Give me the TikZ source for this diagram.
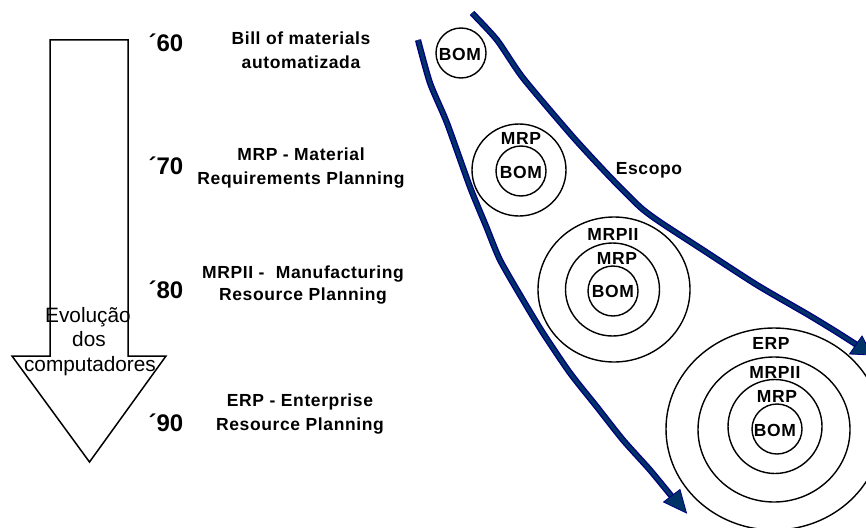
\documentclass[tikz,border=0pt]{standalone}
\usepackage{fontspec}
\setmainfont{Liberation Sans}
\newfontfamily\boldsp[LetterSpace=3.5]{Liberation Sans Bold}
\definecolor{scopeline}{HTML}{000080}
\definecolor{scopefill}{HTML}{003366}
\tikzset{
  x=1pt,y=-1pt,
  ring/.style={draw=black,line width=1.4pt,fill=none},
  ringtext/.style={inner sep=0pt,anchor=base,font=\boldsp\fontsize{17.5}{20}\selectfont},
  decade/.style={inner sep=0pt,anchor=base east,font=\bfseries\fontsize{24}{28}\selectfont},
  era/.style={inner sep=0pt,anchor=center,align=center,font=\boldsp\fontsize{17.5}{24}\selectfont},
  evo/.style={inner sep=0pt,anchor=base,font=\fontsize{20.8}{24}\selectfont},
  scopeouter/.style={draw=scopeline,line width=6.2pt,line cap=butt,line join=round},
  scopeinner/.style={draw=scopefill,line width=3.4pt,line cap=butt,line join=round},
  scopehead/.style={fill=scopefill,draw=scopeline,line width=0.8pt,line join=miter},
}
\begin{document}
\begin{tikzpicture}
\useasboundingbox (0,0) rectangle (866,527);
\clip (0,0) rectangle (866,527);
% big arrow
\draw[line width=1.5pt,line join=miter] (50,40) -- (128,40) -- (128,356) -- (166,356) -- (89.5,462) -- (12,356) -- (50,356) -- cycle;
\node[evo] (evo1) at (88,322) {Evolução};
\node[evo] (evo2) at (89,346) {dos};
\node[evo] (evo3) at (90,371) {computadores};
% decades
\node[decade] (d60) at (183.5,52) {´60};
\node[decade] (d70) at (183.5,174) {´70};
\node[decade] (d80) at (183.5,298.5) {´80};
\node[decade] (d90) at (183.5,431) {´90};
% eras
\node[era] (e60) at (301,50) {Bill of materials\\automatizada};
\node[era] (e70) at (301,168) {MRP - Material\\Requirements Planning};
\node[era] (e80) at (303,285) {MRPII -\,\, Manufacturing\\[-2pt]Resource Planning};
\node[era] (e90) at (300,414) {ERP - Enterprise\\Resource Planning};
% scope arrows
\coordinate (a0) at (418,40);
\coordinate (a9) at (673,498);
\coordinate (b0) at (472,13);
\coordinate (b9) at (857,345);
\foreach \st in {scopeouter,scopeinner}{
  \draw[\st] plot[smooth,tension=0.4] coordinates {(a0) (430,83) (447,123) (470,187) (486,226) (500,260) (523,300) (543,333) (570,373) (597,407) (623,440) (650,470) (a9)};
  \draw[\st] plot[smooth,tension=0.4] coordinates {(b0) (497,40) (523,78) (573,137) (610,177) (640,207) (660,222) (703,250) (757,285) (807,314) (835,331) (b9)};
}
\draw[scopehead] (686.5,513) -- (663.5,502) -- (680,489.5) -- cycle;
\draw[scopehead] (872,355) -- (849.5,354) -- (862,336) -- cycle;
\node[inner sep=0pt,anchor=base,font=\boldsp\fontsize{17.5}{20}\selectfont] (esc) at (649,174) {Escopo};
% rings
\draw[ring] (461,53) circle[x radius=25,y radius=25];
\node[ringtext] (t1) at (460,60) {BOM};
\draw[ring] (519,170) circle[x radius=47,y radius=46];
\draw[ring] (521,171) circle[x radius=25,y radius=25];
\node[ringtext] (t2) at (521,178) {BOM};
\node[ringtext] (t3) at (521,144) {MRP};
\draw[ring] (614,289.5) circle[x radius=76,y radius=72.5];
\draw[ring] (612.5,289.5) circle[x radius=47,y radius=46.5];
\draw[ring] (613,291) circle[x radius=25,y radius=25];
\node[ringtext] (t4) at (613,297) {BOM};
\node[ringtext] (t5) at (617,264) {MRP};
\node[ringtext] (t6) at (613,240) {MRPII};
\draw[ring] (774,429) circle[x radius=108,y radius=101];
\draw[ring] (774,429.5) circle[x radius=76,y radius=72.5];
\draw[ring] (775,426.5) circle[x radius=47,y radius=47];
\draw[ring] (777,429) circle[x radius=25,y radius=25];
\node[ringtext] (t7) at (775,436) {BOM};
\node[ringtext] (t8) at (777,402) {MRP};
\node[ringtext] (t9) at (775,378) {MRPII};
\node[ringtext] (t10) at (771,349) {ERP};
\end{tikzpicture}
\end{document}
